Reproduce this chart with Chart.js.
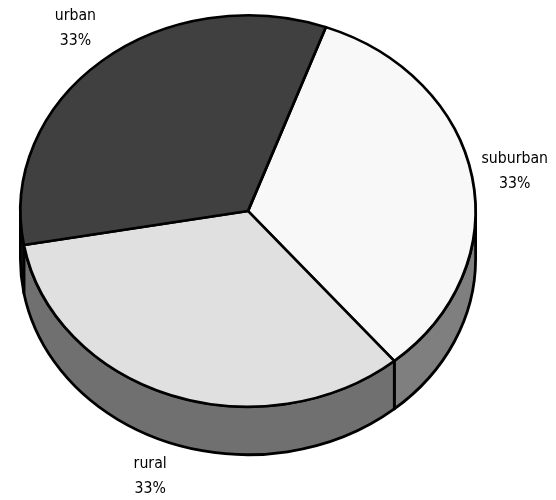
<!DOCTYPE html>
<html>
<head>
<meta charset="utf-8">
<style>
  html, body { margin: 0; padding: 0; background: #fff; }
  canvas { display: block; }
</style>
</head>
<body>
<canvas id="pie" width="556" height="500"></canvas>
<script src="https://cdn.jsdelivr.net/npm/chart.js@4/dist/chart.umd.min.js"></script>
<script>
const categories = ['suburban', 'rural', 'urban'];
const shares = [33, 33, 33];
const sliceColors = ['#f8f8f8', '#e0e0e0', '#404040'];
const wallColors = ['#7f7f7f', '#707070', '#202020'];

const TILT = 0.86;      // vertical squash of the pie disc
const DEPTH = 48;       // height of the side wall
const CENTER_Y = 211;
const LINE = '#000000';
const LINE_WIDTH = 2.8;

// label anchor: how far out from the rim, per slice
const labelReach = [
  { x: 1.19, y: 1.19, drop: 0 },
  { x: 1.257, y: 1.178, drop: 48 },
  { x: 1.18, y: 1.22, drop: 0 },
];

// the side wall of one slice, only the part facing the viewer
function drawWall(ctx, arc, color, rx, ry) {
  const from = Math.max(arc.startAngle, 0);
  const to = Math.min(arc.endAngle, Math.PI);
  if (to <= from) return;
  ctx.beginPath();
  ctx.ellipse(arc.x, CENTER_Y, rx, ry, 0, from, to);
  ctx.ellipse(arc.x, CENTER_Y + DEPTH, rx, ry, 0, to, from, true);
  ctx.closePath();
  ctx.fillStyle = color;
  ctx.fill();
  ctx.lineWidth = LINE_WIDTH;
  ctx.lineJoin = 'round';
  ctx.strokeStyle = LINE;
  ctx.stroke();
}

const tiltedDisc = {
  id: 'tiltedDisc',
  beforeDatasetsDraw(chart) {
    const { ctx } = chart;
    const arcs = chart.getDatasetMeta(0).data;
    const rx = arcs[0].outerRadius;
    const ry = rx * TILT;
    arcs.forEach((arc, i) => drawWall(ctx, arc, wallColors[i], rx, ry));
    ctx.save();
    ctx.translate(0, CENTER_Y);
    ctx.scale(1, TILT);
    ctx.translate(0, -arcs[0].y);
  },
  afterDatasetsDraw(chart) {
    chart.ctx.restore();
  },
  afterDraw(chart) {
    const { ctx } = chart;
    const arcs = chart.getDatasetMeta(0).data;
    ctx.save();
    ctx.font = '15.7px "DejaVu Sans Condensed", "Noto Sans", sans-serif';
    ctx.fillStyle = '#000';
    ctx.textAlign = 'center';
    ctx.textBaseline = 'middle';
    arcs.forEach((arc, i) => {
      const mid = (arc.startAngle + arc.endAngle) / 2;
      const reach = labelReach[i];
      const x = arc.x + Math.cos(mid) * arc.outerRadius * reach.x;
      const y = CENTER_Y + Math.sin(mid) * arc.outerRadius * TILT * reach.y + reach.drop;
      ctx.fillText(categories[i], x, y - 12);
      ctx.fillText(shares[i] + '%', x, y + 13);
    });
    ctx.restore();
  },
};

new Chart(document.getElementById('pie'), {
  type: 'pie',
  data: {
    labels: categories,
    datasets: [{
      data: shares,
      backgroundColor: sliceColors,
      borderColor: LINE,
      borderWidth: LINE_WIDTH,
      borderJoinStyle: 'round',
      clip: false,
    }],
  },
  options: {
    responsive: false,
    animation: false,
    rotation: 20,
    layout: { padding: { left: 19, right: 79, top: 0, bottom: 42 } },
    plugins: { legend: { display: false }, tooltip: { enabled: false } },
  },
  plugins: [tiltedDisc],
});
</script>
</body>
</html>
